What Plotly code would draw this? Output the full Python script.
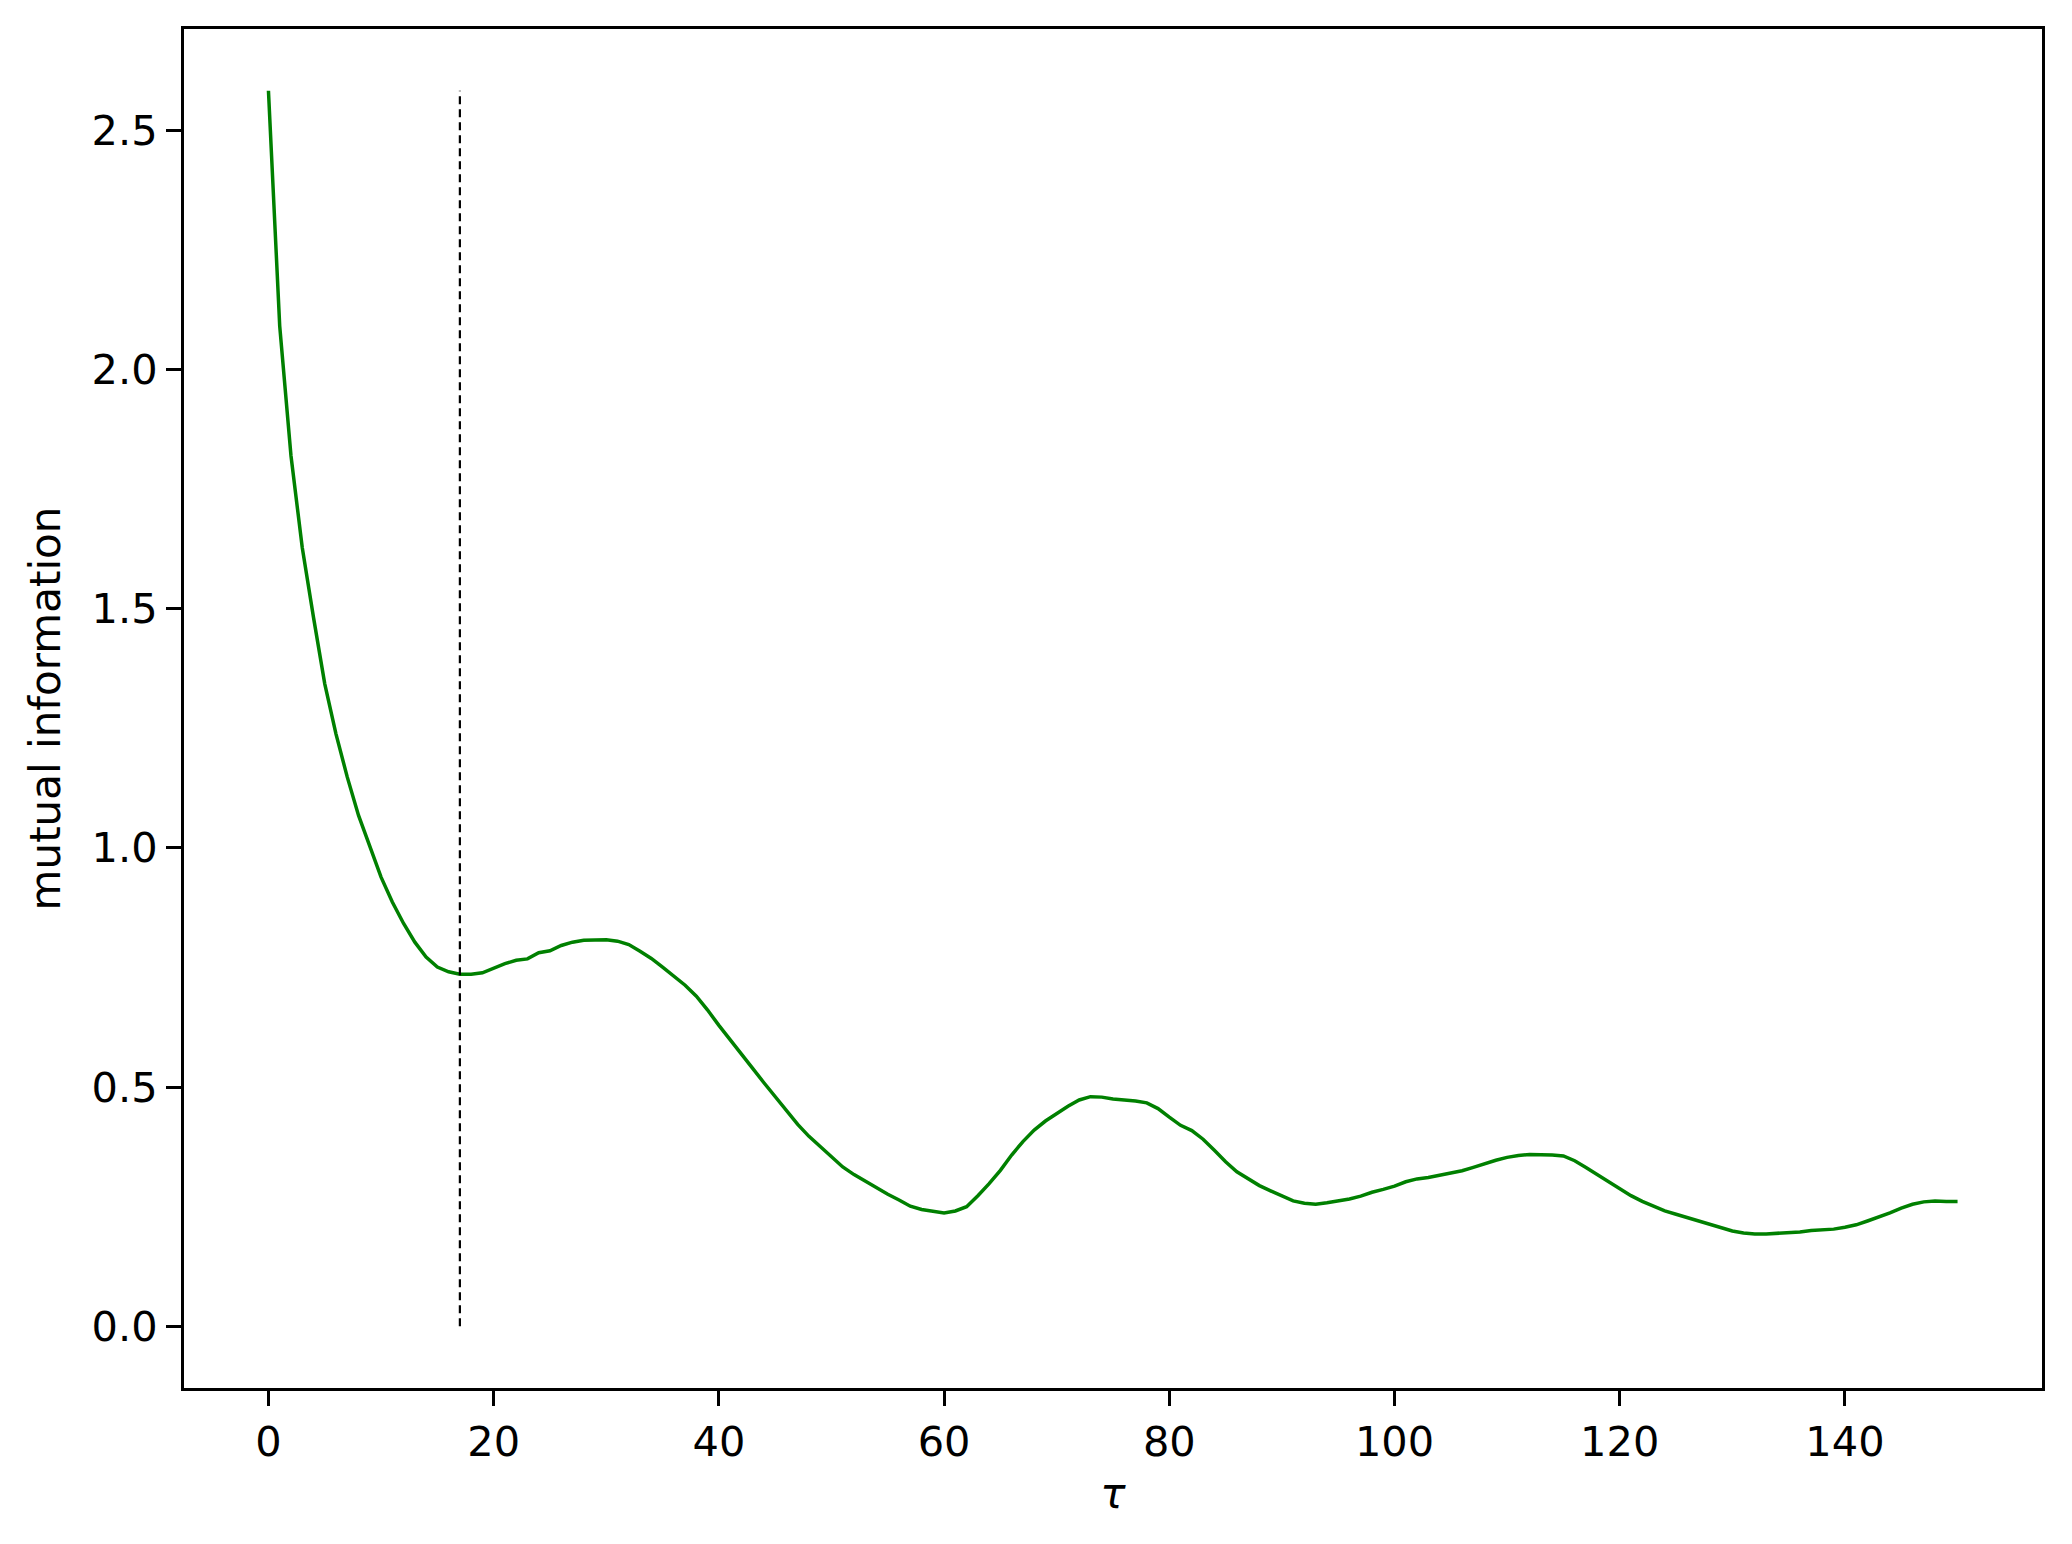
import plotly.graph_objects as go

tau = list(range(0, 151))
mi = [
    2.583, 2.091, 1.820, 1.628, 1.482, 1.343, 1.238, 1.148, 1.068, 1.002,
    0.939, 0.887, 0.842, 0.803, 0.772, 0.751, 0.741, 0.736, 0.736, 0.739,
    0.748, 0.758, 0.765, 0.768, 0.781, 0.785, 0.796, 0.803, 0.807, 0.808,
    0.808, 0.805, 0.798, 0.784, 0.769, 0.751, 0.732, 0.713, 0.690, 0.661,
    0.629, 0.598, 0.568, 0.539, 0.509, 0.480, 0.450, 0.422, 0.397, 0.375,
    0.354, 0.333, 0.317, 0.303, 0.290, 0.276, 0.264, 0.251, 0.244, 0.240,
    0.237, 0.241, 0.250, 0.273, 0.298, 0.326, 0.358, 0.386, 0.410, 0.429,
    0.445, 0.460, 0.473, 0.480, 0.479, 0.475, 0.473, 0.471, 0.467, 0.455,
    0.437, 0.420, 0.409, 0.391, 0.368, 0.344, 0.323, 0.308, 0.294, 0.283,
    0.272, 0.262, 0.257, 0.255, 0.258, 0.262, 0.266, 0.272, 0.280, 0.286,
    0.293, 0.302, 0.308, 0.311, 0.316, 0.320, 0.325, 0.332, 0.340, 0.347,
    0.353, 0.357, 0.359, 0.359, 0.358, 0.356, 0.346, 0.332, 0.317, 0.302,
    0.287, 0.273, 0.261, 0.251, 0.241, 0.234, 0.227, 0.219, 0.212, 0.205,
    0.199, 0.195, 0.193, 0.193, 0.194, 0.1955, 0.197, 0.200, 0.201, 0.203,
    0.207, 0.212, 0.220, 0.228, 0.237, 0.247, 0.255, 0.260, 0.262, 0.261,
    0.261,
]
tau_min = 17
x_ticks = [0, 20, 40, 60, 80, 100, 120, 140]
y_ticks = [0.0, 0.5, 1.0, 1.5, 2.0, 2.5]

FONT = "DejaVu Sans"
FS_TICK = 41.5
FS_TITLE = 42

fig = go.Figure()
fig.add_trace(go.Scatter(
    x=tau, y=mi, mode="lines",
    line=dict(color="green", width=3.5),
    showlegend=False, hoverinfo="skip",
))
fig.add_trace(go.Scatter(
    x=[tau_min, tau_min], y=[0, max(mi)], mode="lines",
    line=dict(color="black", width=2.2, dash="8px,5px"),
    showlegend=False, hoverinfo="skip",
))

xmin, xmax = min(tau), max(tau)
xm = 0.05 * (xmax - xmin)
ymin, ymax = 0.0, max(mi)
ym = 0.05 * (ymax - ymin)

axis_common = dict(
    showline=True, linecolor="black", linewidth=3.3, mirror=True,
    ticks="outside", ticklen=15, tickwidth=3.3, tickcolor="black",
    showgrid=False, zeroline=False,
    tickfont=dict(family=FONT, size=FS_TICK, color="black"),
)

# the page body adds an 8px offset, so the figure is made 8px smaller
fig.update_layout(
    width=2064, height=1536,
    margin=dict(l=176, r=30, t=21, b=156, autoexpand=False),
    paper_bgcolor="white", plot_bgcolor="white",
    font=dict(family=FONT, size=FS_TICK, color="black"),
    xaxis=dict(
        range=[xmin - xm, xmax + xm],
        tickvals=x_ticks,
        title=dict(text="<i>τ</i>", font=dict(family=FONT, size=FS_TITLE, color="black"), standoff=14),
        **axis_common,
    ),
    yaxis=dict(
        range=[ymin - ym, ymax + ym],
        tickvals=y_ticks, tickformat=".1f",
        title=dict(text="mutual information", font=dict(family=FONT, size=FS_TITLE, color="black"), standoff=18),
        **axis_common,
    ),
)

fig.write_html("out.html")
